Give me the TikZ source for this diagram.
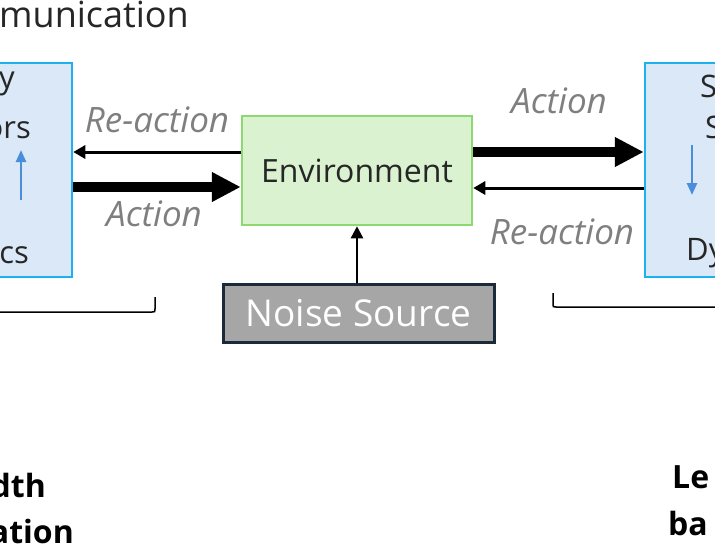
\documentclass[tikz,border=0pt]{standalone}
\usepackage{fontspec}
\setmainfont{Open Sans}
\usetikzlibrary{arrows.meta}
\definecolor{lbfill}{RGB}{218,232,247}
\definecolor{lbdraw}{RGB}{30,177,240}
\definecolor{envfill}{RGB}{218,242,208}
\definecolor{envdraw}{RGB}{142,216,112}
\definecolor{noisefill}{RGB}{166,166,166}
\definecolor{noisedraw}{RGB}{27,42,58}
\definecolor{lblgray}{RGB}{127,127,127}
\definecolor{txtdark}{RGB}{38,38,38}
\definecolor{smallblue}{RGB}{74,142,219}
\begin{document}
\begin{tikzpicture}[x=1pt,y=-1pt,
  sidebox/.style={draw=lbdraw, fill=lbfill, line width=2.5pt, inner sep=0pt},
  envbox/.style={draw=envdraw, fill=envfill, line width=2.5pt, inner sep=0pt,
    text=txtdark, font=\fontsize{32}{32}\selectfont},
  noisebox/.style={draw=noisedraw, fill=noisefill, line width=3pt, inner sep=0pt,
    text=white, font=\fontsize{37}{37}\selectfont},
  thickarrow/.style={line width=10pt, -{Triangle[length=29pt,width=28pt]}},
  thinarrow/.style={line width=3pt, -{Triangle[length=12pt,width=13pt]}},
  bluearrow/.style={smallblue, line width=2.5pt, -{Triangle[length=12pt,width=10pt]}},
  lbl/.style={inner sep=0pt, text=lblgray, font=\itshape\fontsize{35}{35}\selectfont},
  frag/.style={inner sep=0pt, text=txtdark, font=\fontsize{31}{31}\selectfont},
  boldfrag/.style={inner sep=0pt, text=black, font=\bfseries\fontsize{32}{32}\selectfont},
  bracket/.style={line width=1.5pt, black}
]
\useasboundingbox (0,0) rectangle (715,550);

% title fragment
\node[inner sep=0pt, text=txtdark, font=\fontsize{36}{36}\selectfont, anchor=base east] (title) at (189,27) {munication};

% side boxes
\node[sidebox, minimum width=92pt, minimum height=214pt] (leftbox) at (26,170) {};
\node[sidebox, minimum width=92pt, minimum height=214pt] (rightbox) at (691,170) {};

% environment and noise
\node[envbox, minimum width=230pt, minimum height=109pt] (env) at (357,170.5) {Environment};
\node[noisebox, minimum width=271pt, minimum height=58pt] (noise) at (358.5,313) {Noise Source};

% text fragments in the side boxes
\node[frag, anchor=base east] (ly) at (15,88) {y};
\node[frag, anchor=base east] (lors) at (31,138) {ors};
\node[frag, anchor=base east] (lcs) at (29,263) {cs};
\node[frag, anchor=base west] (rs1) at (700,97) {S};
\node[frag, anchor=base west] (rs2) at (705,138) {S};
\node[frag, anchor=base west] (rdy) at (686,260) {Dy};

\coordinate (lup0) at (21,200);
\coordinate (lup1) at (21,150);
\coordinate (rdn0) at (692,145);
\coordinate (rdn1) at (692,195);
\draw[bluearrow] (lup0) -- (lup1);
\draw[bluearrow] (rdn0) -- (rdn1);

% connectors
\draw[thinarrow] (env.west |- 0,152) -- (leftbox.east |- 0,152);
\draw[thickarrow] (leftbox.east |- 0,187) -- (env.west |- 0,187);
\draw[thickarrow] (env.east |- 0,152) -- (rightbox.west |- 0,152);
\draw[thinarrow] (rightbox.west |- 0,188) -- (env.east |- 0,188);
\draw[line width=2.5pt, -{Triangle[length=12pt,width=12pt]}] (noise.north -| 357,0) -- (env.south -| 357,0);

% labels
\node[lbl] (lre) at (157,120) {Re-action};
\node[lbl] (lact) at (154,214) {Action};
\node[lbl] (ract) at (559,101) {Action};
\node[lbl] (rre) at (562,232) {Re-action};

% brackets
\coordinate (lb0) at (-5,312);
\coordinate (lb1) at (155,297);
\draw[bracket] (lb0) -- (152,312) .. controls (155,312) .. (155,309) -- (lb1);
\coordinate (rb0) at (553,293);
\coordinate (rb1) at (720,307);
\draw[bracket] (rb0) -- (553,304) .. controls (553,307) .. (556,307) -- (rb1);

% bottom bold fragments
\node[boldfrag, anchor=base east] (bl1) at (46,497) {dth};
\node[boldfrag, anchor=base east] (bl2) at (74,543) {ation};
\node[boldfrag, anchor=base west] (br1) at (672,488) {Le};
\node[boldfrag, anchor=base west] (br2) at (668,535) {ba};
\end{tikzpicture}
\end{document}
